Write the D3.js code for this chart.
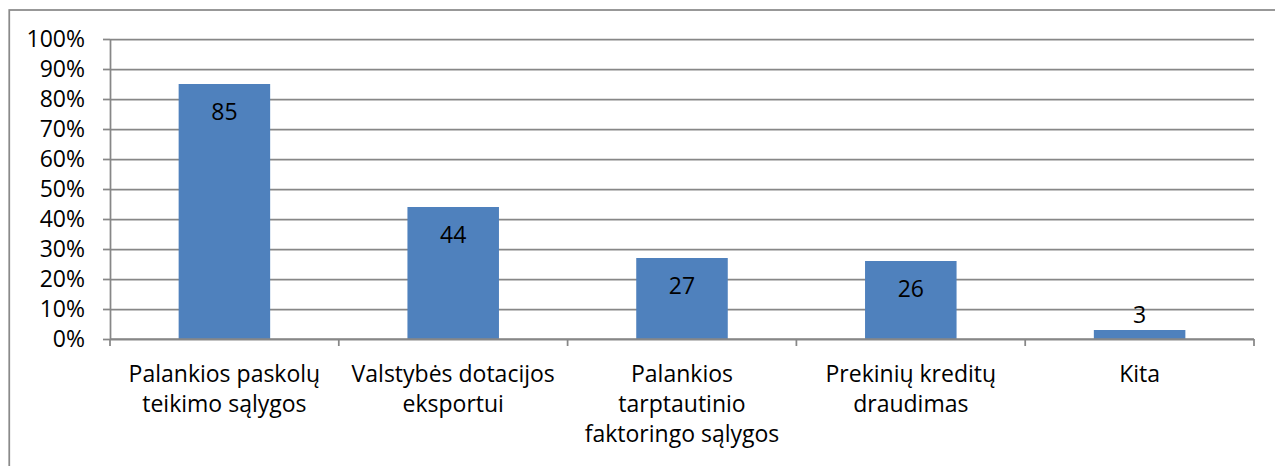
<!DOCTYPE html>
<html>
<head>
<meta charset="utf-8">
<script src="https://cdn.jsdelivr.net/npm/d3@7"></script>
<style>
  html, body { margin: 0; padding: 0; background: #fff; }
  svg { display: block; }
  text { font-family: "Open Sans", "Noto Sans", sans-serif; fill: #000; }
</style>
</head>
<body>
<svg id="chart" width="1275" height="466"></svg>
<script>
// Category names (line breaks mark where the axis label wraps)
const categories = [
  "Palankios paskolų\nteikimo sąlygos",
  "Valstybės dotacijos\neksportui",
  "Palankios\ntarptautinio\nfaktoringo sąlygos",
  "Prekinių kreditų\ndraudimas",
  "Kita"
];
// Share of respondents, %
const values = [85, 44, 27, 26, 3];
// Value-axis ticks, %
const yTicks = [0, 10, 20, 30, 40, 50, 60, 70, 80, 90, 100];

const W = 1275, H = 466;
const plot = { left: 110, right: 1254, top: 39, bottom: 339 };
const lineColor = "#878787";
const barColor = "#4F81BD";
const fontSize = 23;

const svg = d3.select("#chart");

// Outer chart frame
svg.append("rect")
  .attr("x", 9.25).attr("y", 10)
  .attr("width", W + 40).attr("height", H + 40)
  .attr("fill", "none")
  .attr("stroke", "#8a8a8a")
  .attr("stroke-width", 1.75);

// Scales
const slot = d3.scaleBand().domain(categories).range([plot.left, plot.right]).padding(0);
const x = d3.scaleBand().domain(categories).range([plot.left, plot.right])
  .paddingInner(0.6).paddingOuter(0.3);
const y = d3.scaleLinear().domain([0, 100]).range([plot.bottom, plot.top]);

// Horizontal gridlines
const grid = svg.append("g")
  .attr("transform", `translate(${plot.left},0)`)
  .call(d3.axisLeft(y).tickValues(yTicks).tickSize(-(plot.right - plot.left)).tickFormat(""));
grid.select(".domain").remove();
grid.selectAll(".tick line").attr("stroke", lineColor).attr("stroke-width", 1.75);

// Value axis with tick marks and percent labels
const yAxis = svg.append("g")
  .attr("transform", `translate(${plot.left},0)`)
  .call(d3.axisLeft(y).tickValues(yTicks).tickSize(7).tickSizeOuter(0).tickPadding(18)
    .tickFormat(d => d + "%"));
yAxis.select(".domain").attr("stroke", lineColor).attr("stroke-width", 1.75);
yAxis.selectAll(".tick line").attr("stroke", lineColor).attr("stroke-width", 1.75);
yAxis.selectAll(".tick text")
  .attr("font-size", fontSize)
  .attr("font-family", null)
  .attr("fill", "#000");

// Bars
svg.append("g").selectAll("rect")
  .data(values)
  .join("rect")
  .attr("x", (d, i) => x(categories[i]))
  .attr("width", x.bandwidth())
  .attr("y", d => y(d))
  .attr("height", d => y(0) - y(d))
  .attr("fill", barColor);

// Bar value labels: inside near the top, above the bar when it is too short
svg.append("g").selectAll("text")
  .data(values)
  .join("text")
  .attr("x", (d, i) => x(categories[i]) + x.bandwidth() / 2)
  .attr("y", d => (y(0) - y(d) > 40) ? y(d) + 28 : y(d) - 15)
  .attr("dy", "0.35em")
  .attr("text-anchor", "middle")
  .attr("font-size", fontSize)
  .text(d => d);

// Category axis line
svg.append("line")
  .attr("x1", plot.left).attr("x2", plot.right)
  .attr("y1", y(0)).attr("y2", y(0))
  .attr("stroke", lineColor).attr("stroke-width", 1.75);

// Category boundary tick marks
const boundaries = categories.map(c => slot(c)).concat([slot(categories[categories.length - 1]) + slot.bandwidth()]);
svg.append("g").selectAll("line")
  .data(boundaries)
  .join("line")
  .attr("x1", d => d).attr("x2", d => d)
  .attr("y1", y(0)).attr("y2", y(0) + 7)
  .attr("stroke", lineColor).attr("stroke-width", 1.75);

// Category labels, one tspan per line
const labels = svg.append("g").selectAll("text")
  .data(categories)
  .join("text")
  .attr("text-anchor", "middle")
  .attr("font-size", fontSize)
  .attr("transform", c => `translate(${slot(c) + slot.bandwidth() / 2},${y(0) + 43})`);
labels.selectAll("tspan")
  .data(c => c.split("\n"))
  .join("tspan")
  .attr("x", 0)
  .attr("y", (d, i) => i * 30)
  .text(d => d);
</script>
</body>
</html>
